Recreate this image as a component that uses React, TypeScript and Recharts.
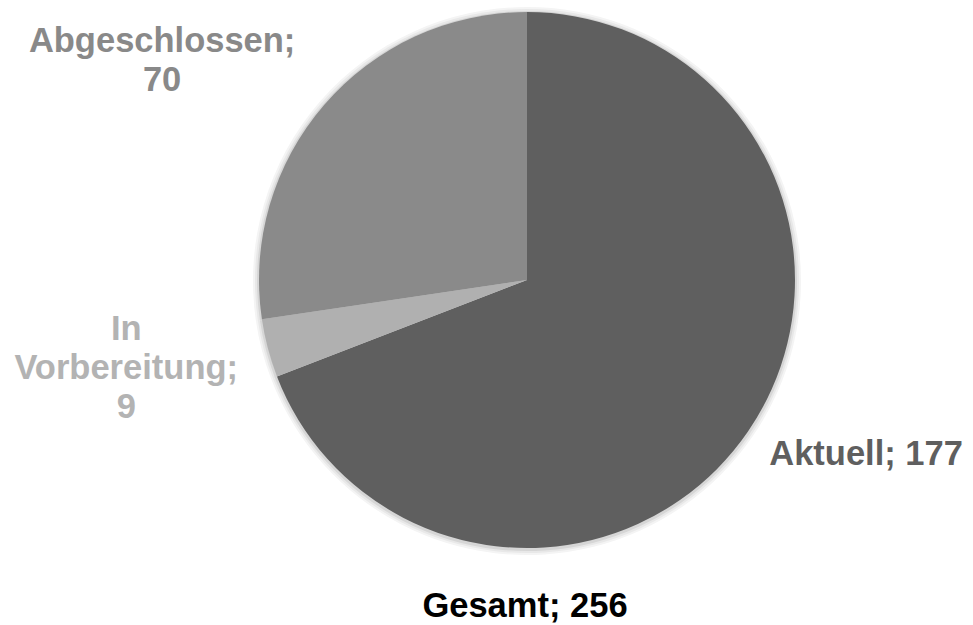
import { Cell, Pie, PieChart } from "recharts";

const categories = ["Aktuell", "In Vorbereitung", "Abgeschlossen"];
const counts = [177, 9, 70];
const totalLabel = "Gesamt";
const total = 256;

const sliceColors = ["#5f5f5f", "#b0b0b0", "#8a8a8a"];
const labelColors = ["#5f5f5f", "#b3b3b3", "#898989"];

// label text lines per slice, as Excel wrapped them
const labelLines = [
  ["Aktuell; 177"],
  ["In", "Vorbereitung;", "9"],
  ["Abgeschlossen;", "70"],
];

// where each label sits: angle (deg) and distance relative to the radius
const labelPlace = [
  { angle: -27, dist: 1.42 },
  { angle: -167.8, dist: 1.53 },
  { angle: 148.9, dist: 1.59 },
];

// soft edge round the pie: rings just outside it, fading out
const haloRings = [
  { extra: 6, color: "#f4f4f4" },
  { extra: 4, color: "#e8e8e8" },
  { extra: 2, color: "#d6d6d6" },
];

const data = categories.map((name, i) => ({ name, value: counts[i] }));
const RAD = Math.PI / 180;
const FONT = "'Liberation Sans', Arial, sans-serif";
const FS = 34.5;
const R = 268;

function renderLabel(props: any) {
  const { cx, cy, outerRadius, index } = props;
  const place = labelPlace[index];
  const lines = labelLines[index];
  const r = outerRadius * place.dist;
  const x = cx + r * Math.cos(place.angle * RAD);
  const y = cy - r * Math.sin(place.angle * RAD);
  const lh = 39;
  const top = y - ((lines.length - 1) * lh) / 2;
  return (
    <text
      key={index}
      x={x}
      y={top}
      textAnchor="middle"
      dominantBaseline="central"
      fill={labelColors[index]}
      style={{ fontFamily: FONT, fontWeight: 700, fontSize: FS }}
    >
      {lines.map((l, j) => (
        <tspan key={j} x={x} y={top + j * lh} dominantBaseline="central">
          {l}
        </tspan>
      ))}
    </text>
  );
}

export default function App() {
  return (
    <div style={{ position: "absolute", left: 0, top: 0, width: 973, height: 625, background: "#fff" }}>
      <PieChart width={973} height={625} margin={{ top: 0, right: 0, bottom: 0, left: 0 }}>
        {haloRings.map((h) => (
          <Pie
            key={h.extra}
            data={data}
            dataKey="value"
            cx={527}
            cy={281}
            outerRadius={R + h.extra}
            startAngle={90}
            endAngle={-270}
            stroke="none"
            isAnimationActive={false}
          >
            {data.map((d) => (
              <Cell key={d.name} fill={h.color} />
            ))}
          </Pie>
        ))}
        <Pie
          data={data}
          dataKey="value"
          nameKey="name"
          cx={527}
          cy={280}
          outerRadius={R}
          startAngle={90}
          endAngle={-270}
          stroke="none"
          labelLine={false}
          label={renderLabel}
          isAnimationActive={false}
        >
          {data.map((d, i) => (
            <Cell key={d.name} fill={sliceColors[i]} />
          ))}
        </Pie>
      </PieChart>
      <div
        style={{
          position: "absolute",
          left: 0,
          width: 1050,
          top: 587,
          textAlign: "center",
          fontFamily: FONT,
          fontWeight: 700,
          fontSize: FS,
          lineHeight: "36px",
          color: "#000",
        }}
      >
        {totalLabel}; {total}
      </div>
    </div>
  );
}
